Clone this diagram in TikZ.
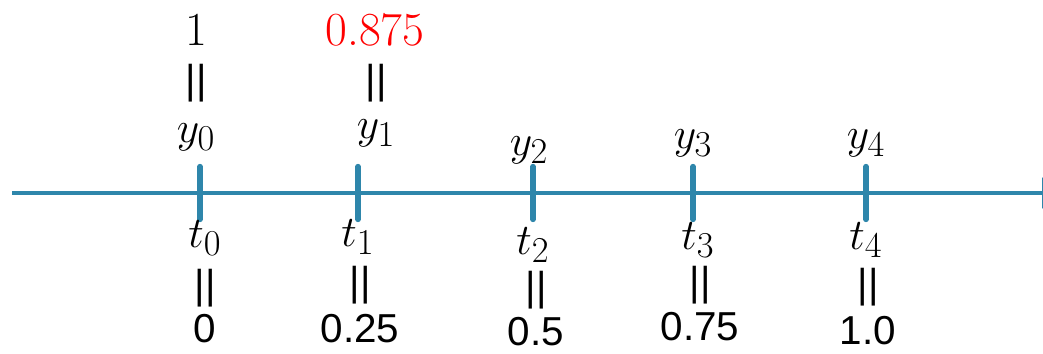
\documentclass[tikz,border=0pt]{standalone}
\usepackage{fontspec}
\setsansfont{Liberation Sans}
\usepackage{tikz}
\usetikzlibrary{arrows.meta}
\definecolor{axisblue}{RGB}{46,134,171}

\begin{document}
\begin{tikzpicture}[
  x=0.02cm,y=0.02cm,
  axis/.style={axisblue,line width=2.8pt,-{Triangle[length=5mm,width=6mm]}},
  tk/.style={axisblue,line width=3.2pt,line cap=round},
  lab/.style={inner sep=0pt,font=\fontsize{29}{33}\selectfont},
  num/.style={inner sep=0pt,font=\fontsize{23}{27}\selectfont\sffamily},
  top/.style={inner sep=0pt,font=\fontsize{27}{31}\selectfont\rmfamily}
]
\useasboundingbox (0,0) rectangle (1043,353);
\clip (0,0) rectangle (1043,353);
% axis and tick marks
\coordinate (ax0) at (12,160);
\coordinate (ax1) at (1067,160);
\draw[axis] (ax0) -- (ax1);
\coordinate (k0) at (200,160);\coordinate (k1) at (358,160);\coordinate (k2) at (533,160);
\coordinate (k3) at (693,160);\coordinate (k4) at (866,160);
\draw[tk] ([yshift=-15]k0) -- ([yshift=15]k0);\draw[tk] ([yshift=-15]k1) -- ([yshift=15]k1);
\draw[tk] ([yshift=-15]k2) -- ([yshift=15]k2);\draw[tk] ([yshift=-15]k3) -- ([yshift=15]k3);
\draw[tk] ([yshift=-15]k4) -- ([yshift=15]k4);
% values above the axis
\node[lab] (y0) at (196,216) {$y_0$};
\node[lab] (y1) at (376,220) {$y_1$};
\node[lab] (y2) at (529,203) {$y_2$};
\node[lab] (y3) at (693,210) {$y_3$};
\node[lab] (y4) at (866,210) {$y_4$};
\node[num] (ey0) at (196,270) {||};
\node[num] (ey1) at (376,270) {||};
\node[top] (v0) at (196,323) {1};
\node[top,text=red] (v1) at (375,323) {0.875};
% times below the axis
\node[lab] (t0) at (205,115) {$t_0$};
\node[lab] (t1) at (358,116) {$t_1$};
\node[lab] (t2) at (533,108) {$t_2$};
\node[lab] (t3) at (698,113) {$t_3$};
\node[lab] (t4) at (866,113) {$t_4$};
\node[num] (et0) at (205,65) {||};
\node[num] (et1) at (360,68) {||};
\node[num] (et2) at (536,63) {||};
\node[num] (et3) at (700,68) {||};
\node[num] (et4) at (868,66) {||};
\node[num] (n0) at (205,24) {0};
\node[num] (n1) at (360,24) {0.25};
\node[num] (n2) at (536,21) {0.5};
\node[num] (n3) at (700,26) {0.75};
\node[num] (n4) at (868,22) {1.0};
\end{tikzpicture}
\end{document}
